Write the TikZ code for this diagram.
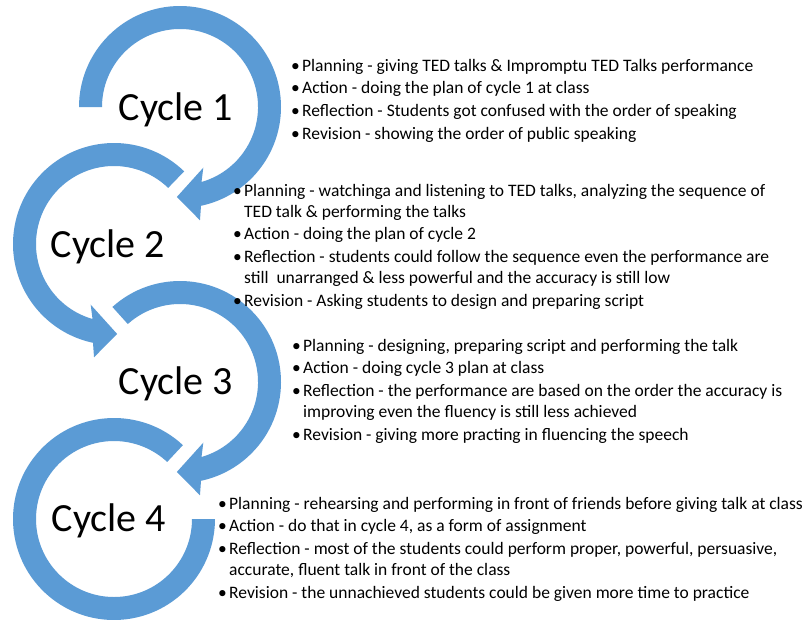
\documentclass[tikz,border=0pt]{standalone}
\usepackage{fontspec}
\setmainfont{Carlito}
\definecolor{arrowblue}{HTML}{5B9BD5}
\tikzset{
  ring/.style={fill=arrowblue, draw=none},
  cyclelabel/.style={font=\fontsize{40}{48}\selectfont, inner sep=0pt, anchor=base},
  bulletblock/.style={inner sep=0pt, anchor=base west, font=\fontsize{17.5}{21}\selectfont},
}
\newcommand{\bitem}[1]{\hangindent=11pt\hangafter=1\noindent\makebox[11pt][l]{•}#1\par}
\newcommand{\blk}[1]{\parbox[t]{600pt}{\setlength{\parskip}{1.7pt}\setlength{\parindent}{0pt}#1}}
\begin{document}
\begin{tikzpicture}[x=1pt,y=1pt]
\useasboundingbox (0,0) rectangle (805,-619);
\fill[white] (0,0) rectangle (805,-619);
% centres
\coordinate (o1) at (180,-107);
\coordinate (o2) at (114,-244);
\coordinate (o3) at (180,-382);
\coordinate (o4) at (114,-519);
% cycle 1 arrow (clockwise)
\fill[ring, shift={(o1)}] (180:101pt) arc[start angle=180, end angle=-78, radius=101pt]
  -- (-80:115pt) -- (-92:90pt) -- (-69:65pt) -- (-74:78pt)
  arc[start angle=-74, end angle=180, radius=78pt] -- cycle;
% cycle 2 arrow (counter-clockwise)
\fill[ring, shift={(o2)}] (46:101pt) arc[start angle=46, end angle=258, radius=101pt]
  -- (260:115pt) -- (272:90pt) -- (249:65pt) -- (254:78pt)
  arc[start angle=254, end angle=46, radius=78pt] -- cycle;
% cycle 3 arrow (clockwise)
\fill[ring, shift={(o3)}] (132:101pt) arc[start angle=132, end angle=-78, radius=101pt]
  -- (-80:115pt) -- (-92:90pt) -- (-69:65pt) -- (-74:78pt)
  arc[start angle=-74, end angle=132, radius=78pt] -- cycle;
% cycle 4 ring
\fill[ring, shift={(o4)}] (47:101pt) arc[start angle=47, end angle=360, radius=101pt]
  -- (0:78pt) arc[start angle=360, end angle=47, radius=78pt] -- cycle;
% labels
\node[cyclelabel] (l1) at (176,-120) {Cycle 1};
\node[cyclelabel] (l2) at (108,-257) {Cycle 2};
\node[cyclelabel] (l3) at (176,-394) {Cycle 3};
\node[cyclelabel] (l4) at (109,-531) {Cycle 4};
% text blocks
\node[bulletblock] (b1) at (291,-71) {\blk{%
\bitem{Planning - giving TED talks \& Impromptu TED Talks performance}
\bitem{Action - doing the plan of cycle 1 at class}
\bitem{Reflection - Students got confused with the order of speaking}
\bitem{Revision - showing the order of public speaking}}};
\node[bulletblock] (b2) at (233,-196) {\blk{%
\bitem{Planning - watchinga and listening to TED talks, analyzing the sequence of\\TED talk \& performing the talks}
\bitem{Action - doing the plan of cycle 2}
\bitem{Reflection - students could follow the sequence even the performance are\\still~ unarranged \& less powerful and the accuracy is still low}
\bitem{Revision - Asking students to design and preparing script}}};
\node[bulletblock] (b3) at (292,-351) {\blk{%
\bitem{Planning - designing, preparing script and performing the talk}
\bitem{Action - doing cycle 3 plan at class}
\bitem{Reflection - the performance are based on the order the accuracy is\\improving even the fluency is still less achieved}
\bitem{Revision - giving more practing in fluencing the speech}}};
\node[bulletblock] (b4) at (218,-509) {\blk{%
\bitem{Planning - rehearsing and performing in front of friends before giving talk at class}
\bitem{Action - do that in cycle 4, as a form of assignment}
\bitem{Reflection - most of the students could perform proper, powerful, persuasive,\\accurate, fluent talk in front of the class}
\bitem{Revision - the unnachieved students could be given more time to practice}}};
\end{tikzpicture}
\end{document}
